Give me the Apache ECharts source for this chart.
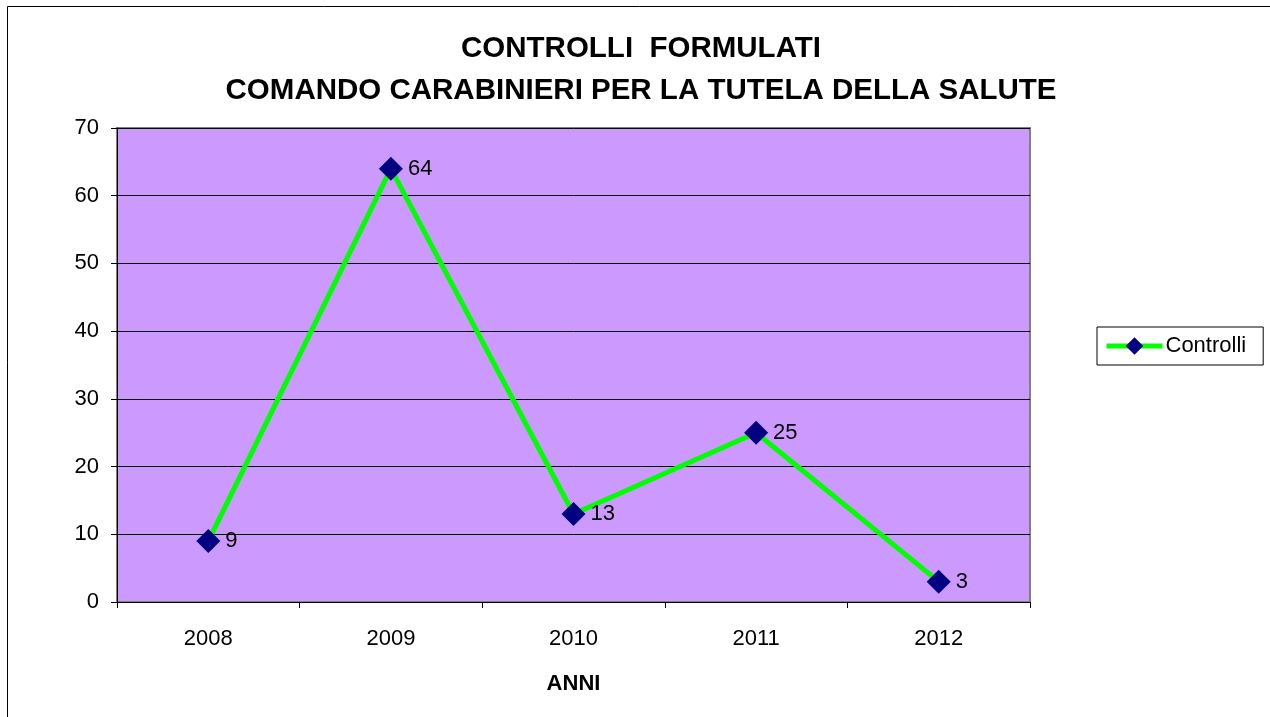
<!DOCTYPE html>
<html>
<head>
<meta charset="utf-8">
<script src="https://cdn.jsdelivr.net/npm/echarts@6/dist/echarts.min.js"></script>
<style>
  html, body { margin: 0; padding: 0; background: #fff; }
  #chart { width: 1270px; height: 717px; }
</style>
</head>
<body>
<div id="chart"></div>
<script>
var anni = ['2008', '2009', '2010', '2011', '2012'];
var controlli = [9, 64, 13, 25, 3];
var yTicks = { min: 0, max: 70, interval: 10 };

var font = 'Liberation Sans, Arial, sans-serif';
var myChart = echarts.init(document.getElementById('chart'));
var option = {
    backgroundColor: '#fff',
    animation: false,
    title: {
        text: 'CONTROLLI  FORMULATI\nCOMANDO CARABINIERI PER LA TUTELA DELLA SALUTE',
        left: 636,
        textAlign: 'center',
        top: 23,
        textStyle: {
            fontFamily: font,
            fontSize: 29.5,
            fontWeight: 'bold',
            color: '#000',
            lineHeight: 42
        }
    },
    graphic: [{
        type: 'rect',
        shape: { x: 7.5, y: 6.5, width: 1280, height: 730 },
        style: { fill: 'none', stroke: '#000', lineWidth: 1 },
        z: -1
    }],
    legend: {
        data: ['Controlli'],
        orient: 'vertical',
        left: 1097,
        top: 327,
        itemWidth: 56,
        itemHeight: 22,
        itemGap: 0,
        padding: [8, 17, 8, 7],
        borderColor: '#000',
        borderWidth: 1,
        lineStyle: { width: 5 },
        textStyle: { fontFamily: font, fontSize: 22, color: '#000', padding: [0, 0, 0, -2] }
    },
    grid: {
        left: 117,
        right: 240,
        top: 128,
        bottom: 115,
        show: true,
        backgroundColor: '#CC99FF',
        borderColor: '#808080',
        borderWidth: 2
    },
    xAxis: {
        type: 'category',
        data: anni,
        boundaryGap: true,
        name: 'ANNI',
        nameLocation: 'middle',
        nameGap: 71,
        nameTextStyle: { fontFamily: font, fontSize: 22, fontWeight: 'bold', color: '#000' },
        axisLine: { lineStyle: { color: '#000', width: 1 } },
        axisTick: { show: true, length: 6, lineStyle: { color: '#000' } },
        axisLabel: { fontFamily: font, fontSize: 22, color: '#000', margin: 26 },
        splitLine: { show: false }
    },
    yAxis: {
        type: 'value',
        min: yTicks.min,
        max: yTicks.max,
        interval: yTicks.interval,
        axisLine: { show: true, lineStyle: { color: '#000', width: 1 } },
        axisTick: { show: true, length: 6, lineStyle: { color: '#000' } },
        axisLabel: { fontFamily: font, fontSize: 22, color: '#000', margin: 18 },
        splitLine: { show: true, lineStyle: { color: '#000', width: 1 } }
    },
    series: [{
        name: 'Controlli',
        type: 'line',
        data: controlli,
        symbol: 'diamond',
        symbolSize: 24,
        itemStyle: { color: '#000080' },
        lineStyle: { color: '#00FF00', width: 5 },
        label: {
            show: true,
            position: 'right',
            distance: 5,
            fontFamily: font,
            fontSize: 22,
            color: '#000'
        }
    }]
};
myChart.setOption(option);
</script>
</body>
</html>
